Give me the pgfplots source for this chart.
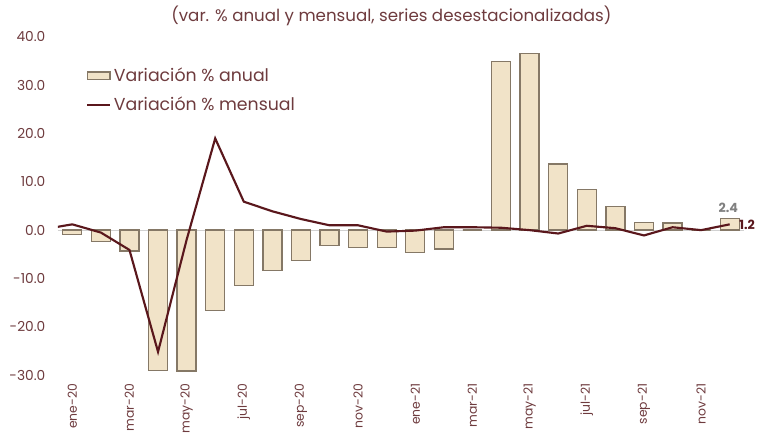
\documentclass[border=0pt]{standalone}
\usepackage{fontspec}
\setmainfont{Poppins}
\usepackage{pgfplots}
\pgfplotsset{compat=1.18}
\definecolor{barfill}{HTML}{F1E3C8}
\definecolor{baredge}{HTML}{857866}
\definecolor{linecol}{HTML}{5A171C}
\definecolor{txt}{HTML}{6E3B3E}
\begin{document}
\begin{tikzpicture}
\begin{axis}[
scale only axis,
width=514.5pt,height=253.5pt,
xmin=-0.5,xmax=23.5,
ymin=-30,ymax=40,
clip mode=individual,
ytick={-30,-20,...,40},
xtick={0,2,...,22},
xticklabels={ene-20,mar-20,may-20,jul-20,sep-20,nov-20,ene-21,mar-21,may-21,jul-21,sep-21,nov-21},
xticklabel style={rotate=90,anchor=east,xshift=-3pt,font=\fontsize{9.3}{11}\selectfont,text=txt},
yticklabel style={font=\fontsize{10.3}{12}\selectfont,text=txt,xshift=-6pt},
/pgf/number format/.cd,fixed,fixed zerofill,precision=1,assume math mode=true,
/pgfplots/.cd,
axis line style={draw=none},
major tick length=0pt,
extra y ticks={0},extra y tick labels={},
extra y tick style={grid=major,grid style={black!18,line width=0.8pt}},
legend style={at={(0.035,0.925)},anchor=north west,draw=none,fill=none,
  font=\fontsize{13}{15}\selectfont,text=txt,row sep=6pt,
  /tikz/every even column/.append style={column sep=1pt}},
legend cell align=left,
]
\addplot[ybar,bar width=14.2pt,fill=barfill,draw=baredge,line width=1pt,area legend]
coordinates {(0,-0.9)(1,-2.4)(2,-4.3)(3,-29.1)(4,-29.2)(5,-16.6)(6,-11.5)(7,-8.3)
(8,-6.3)(9,-3.2)(10,-3.6)(11,-3.6)(12,-4.7)(13,-3.9)(14,0.0)(15,34.9)(16,36.6)
(17,13.7)(18,8.4)(19,4.9)(20,1.6)(21,1.5)(22,0.0)(23,2.4)};
\addlegendentry{Variación \% anual}
\addplot[linecol,line width=1.6pt,mark=none]
coordinates {(-1,0.2)(0,1.2)(1,-0.5)(2,-4.1)(3,-25.2)(4,-2.0)(5,19.0)(6,5.9)(7,3.9)
(8,2.3)(9,1.0)(10,1.0)(11,-0.3)(12,-0.1)(13,0.6)(14,0.6)(15,0.5)(16,0.0)
(17,-0.7)(18,0.9)(19,0.4)(20,-1.1)(21,0.6)(22,0.0)(23,1.2)};
\addlegendentry{Variación \% mensual}
\node[font=\bfseries\fontsize{9.5}{10}\selectfont,text=black!50,above] at (axis cs:22.95,2.7) {2.4};
\node[font=\bfseries\fontsize{9.5}{10}\selectfont,text=linecol,right,inner sep=1pt] at (axis cs:23.28,1.0) {1.2};
\end{axis}
\node[font=\fontsize{12.5}{14}\selectfont,text=txt] at (250pt,269pt) {(var. \% anual y mensual, series desestacionalizadas)};
\pgfresetboundingbox
\path[use as bounding box] (-43.5pt,-44.25pt) rectangle (533.25pt,281.25pt);
\end{tikzpicture}
\end{document}
